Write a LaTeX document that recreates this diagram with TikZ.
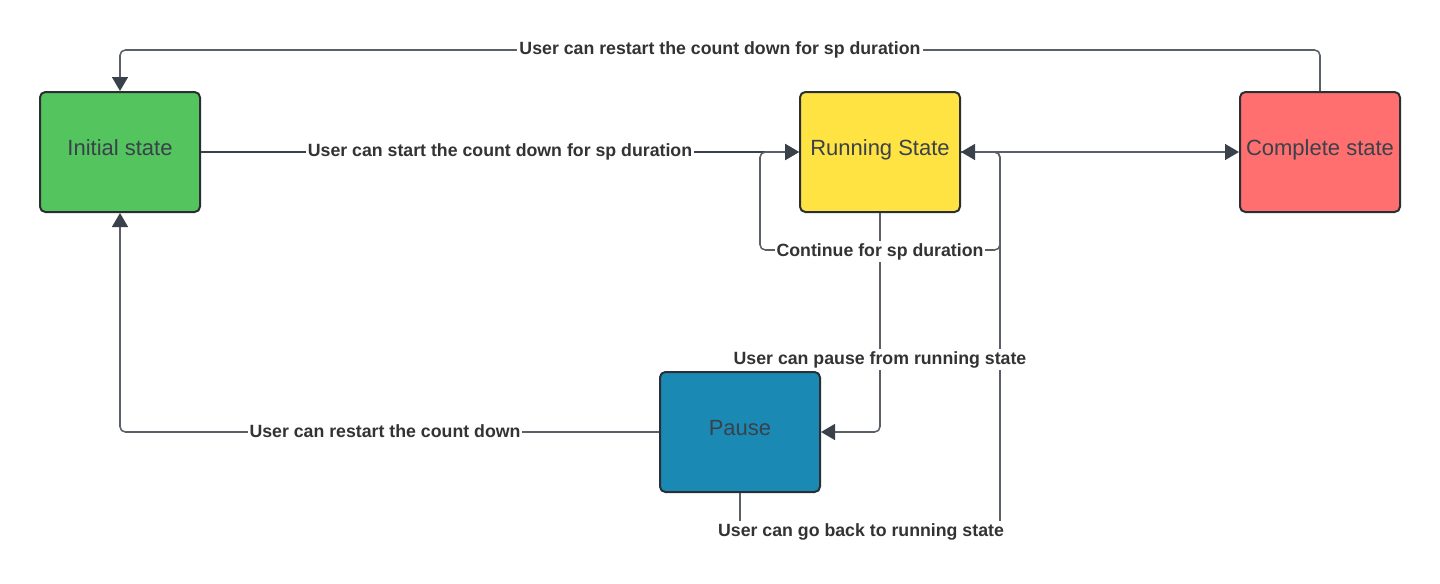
\documentclass[tikz,border=0pt]{standalone}
\usepackage{fontspec}
\setmainfont{Liberation Sans}
\usetikzlibrary{arrows.meta}
\definecolor{cgreen}{HTML}{54C45E}
\definecolor{cyellow}{HTML}{FFE342}
\definecolor{cred}{HTML}{FF6F6F}
\definecolor{cblue}{HTML}{1A8AB5}
\definecolor{cborder}{HTML}{2A2E35}
\definecolor{ctext}{HTML}{3A414A}
\definecolor{cline}{HTML}{5A5F68}
\definecolor{cdark}{HTML}{3A414A}
\definecolor{clabel}{HTML}{333333}
\begin{document}
\begin{tikzpicture}[x=0.75pt,y=-0.75pt,
  statebox/.style={draw=cborder, line width=1.5pt, rounded corners=4pt,
    minimum width=120pt, minimum height=90pt, inner sep=0pt,
    text height=12pt, text depth=7pt,
    font=\fontsize{16.5}{20}\selectfont, text=ctext},
  conn/.style={draw=cline, line width=1.15pt, rounded corners=4pt,
    -{Triangle[length=10.5pt,width=12pt,color=cdark]}},
  darkconn/.style={conn, draw=cdark, line width=1.5pt},
  lbl/.style={fill=white, inner sep=1.5pt, font=\bfseries\fontsize{13.3}{15}\selectfont, text=clabel}]
\useasboundingbox (0,0) rectangle (1440,583);

\node[statebox, fill=cgreen] (initial) at (120,152) {Initial state};
\node[statebox, fill=cyellow] (running) at (880,152) {Running State};
\node[statebox, fill=cred] (complete) at (1320,152) {Complete state};
\node[statebox, fill=cblue] (pause) at (740,432) {Pause};

% restart from complete
\draw[conn] (complete.north) -- (1320,50) -- (120,50) -- (initial.north);
% start
\draw[darkconn] (initial.east) -- (running.west);
% running -> complete
\draw[conn] (running.east) -- (complete.west);
% self loop
\draw[conn] (running.east) -- (1000,152) -- (1000,250) -- (760,250) -- (760,152) -- (running.west);
% pause
\draw[conn] (running.south) -- (880,432) -- (pause.east);
% restart from pause
\draw[conn] (pause.west) -- (120,432) -- (initial.south);
% back to running
\draw[conn] (pause.south) -- (740,530) -- (1000,530) -- (1000,152) -- (running.east);

\node[lbl] (l1) at (720,50) {User can restart the count down for sp duration};
\node[lbl] (l2) at (500,151.5) {User can start the count down for sp duration};
\node[lbl] (l3) at (880,251.5) {Continue for sp duration};
\node[lbl] (l4) at (880,359.5) {User can pause from running state};
\node[lbl] (l5) at (385,431.5) {User can restart the count down};
\node[lbl] (l6) at (861,531.5) {User can go back to running state};
\end{tikzpicture}
\end{document}
